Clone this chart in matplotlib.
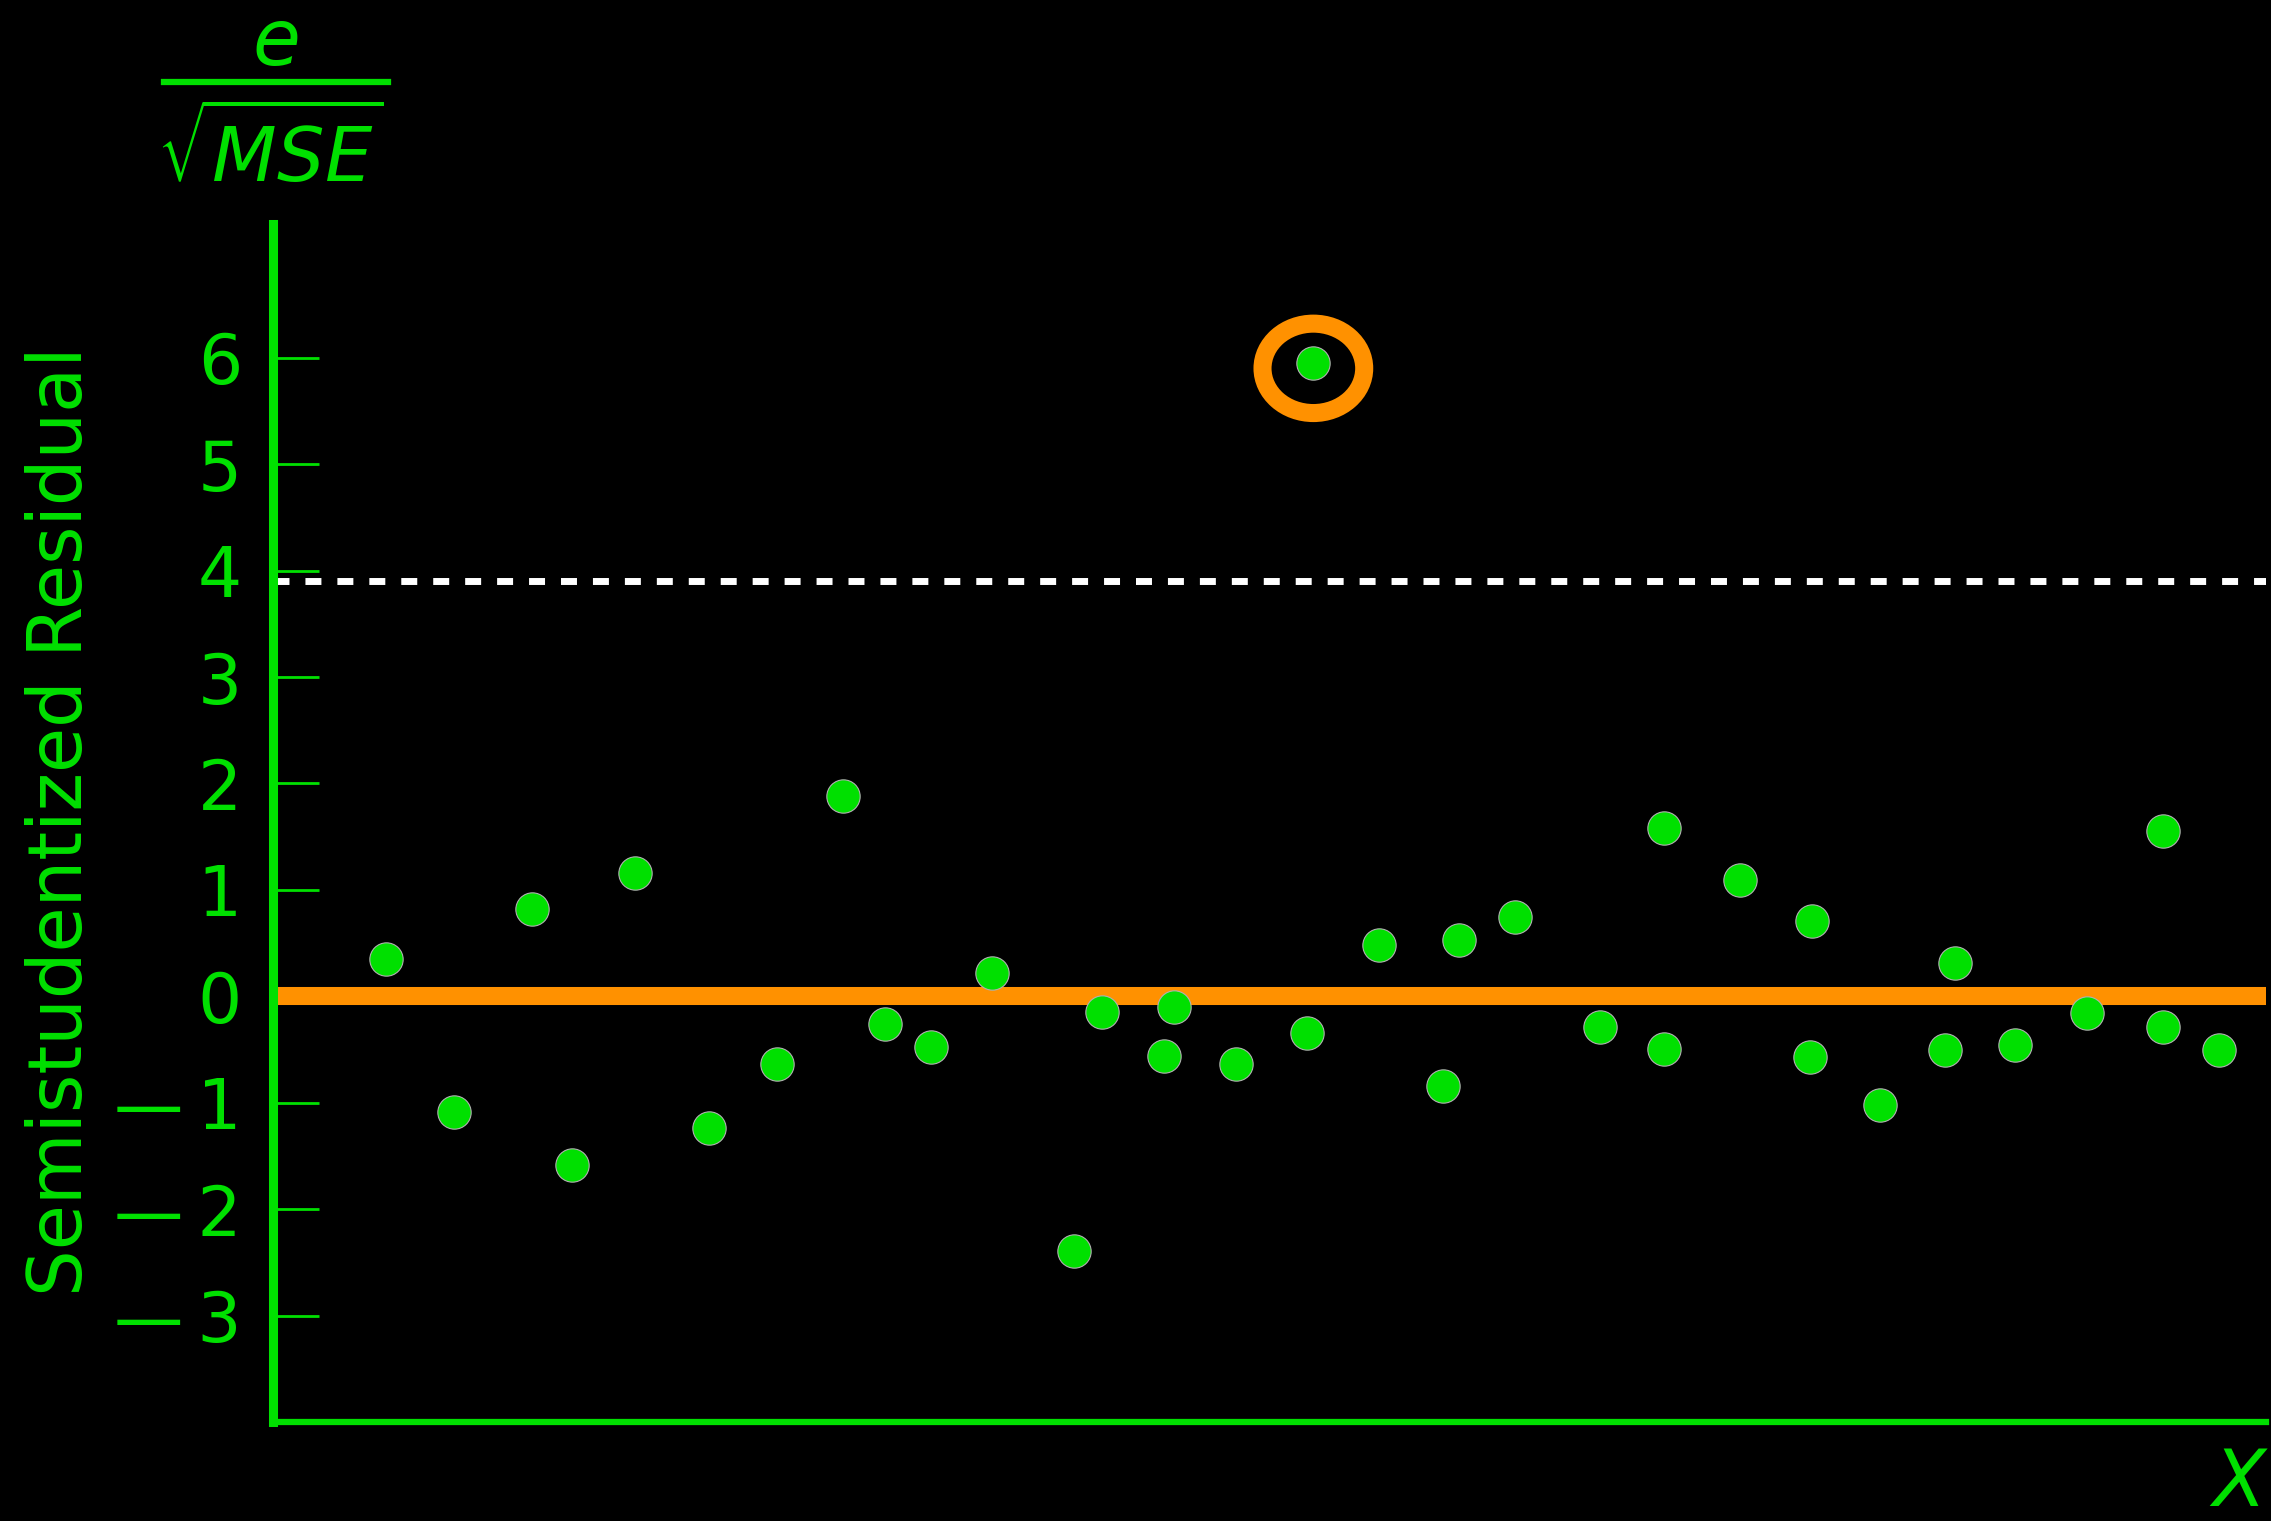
import numpy as np
import matplotlib.pyplot as plt
from matplotlib.patches import Ellipse
from matplotlib.lines import Line2D

GREEN = '#00e000'
ORANGE = '#ff9100'

# residual plot data (x in arbitrary units 0-100)
x_vals = [5.7, 9.1, 13.0, 15.0, 18.2, 21.9, 25.3, 28.6, 30.7, 33.0, 36.1, 40.2,
          41.6, 45.2, 44.7, 48.3, 51.9, 52.2, 55.5, 58.7, 59.5, 62.3, 66.6, 69.8,
          69.8, 73.6, 77.2, 77.1, 80.6, 84.4, 83.9, 87.4, 91.0, 94.8, 94.8, 97.6]
resid = [0.35, -1.09, 0.82, -1.58, 1.16, -1.24, -0.64, 1.88, -0.26, -0.48, 0.22, -2.39,
         -0.15, -0.10, -0.56, -0.64, -0.34, 5.95, 0.48, -0.84, 0.53, 0.75, -0.29, 1.58,
         -0.49, 1.09, 0.71, -0.57, -1.02, 0.31, -0.50, -0.46, -0.16, 1.55, -0.29, -0.50]

outlier_x = 52.2
outlier_y = 5.95
cutoff = 3.9

yticks = [-3, -2, -1, 0, 1, 2, 3, 4, 5, 6]
ytick_labels = ['—\u20093', '—\u20092', '—\u20091', '0', '1', '2', '3', '4', '5', '6']

fig = plt.figure(figsize=(22.71, 15.21), dpi=100, facecolor='black')
ax = fig.add_axes([0.120, 0.065, 0.878, 0.788], facecolor='black')

ax.axhline(0, color=ORANGE, lw=13, zorder=2)
ax.axhline(cutoff, color='white', lw=5, dashes=(2.3, 2.3), zorder=2)
ax.plot(x_vals, resid, 'o', color=GREEN, ms=24, mec='#b0b0b0', mew=0.8, zorder=3)

ring = Ellipse((outlier_x, outlier_y - 0.05), 5.1, 0.84, fill=False,
               ec=ORANGE, lw=13, zorder=4)
ax.add_patch(ring)

ax.set_xlim(0, 100)
ax.set_ylim(-4.0, 7.26)
ax.set_xticks([])
ax.set_yticks(yticks)
ax.set_yticklabels(ytick_labels)
ax.tick_params(axis='y', direction='in', length=33, width=2, color=GREEN,
               labelcolor=GREEN, labelsize=50, pad=22)

for side in ['top', 'right']:
    ax.spines[side].set_visible(False)
ax.spines['left'].set_color(GREEN)
ax.spines['left'].set_linewidth(6.5)
ax.spines['bottom'].set_color(GREEN)
ax.spines['bottom'].set_linewidth(4.5)

fig.text(0.027, 0.46, 'Semistudentized Residual', rotation=90, color=GREEN,
         fontsize=53, ha='center', va='center')

# e / sqrt(MSE) label above the axis
fig.text(0.121, 0.972, '$e$', color=GREEN, fontsize=56, ha='center', va='center')
fig.add_artist(Line2D([0.072, 0.171], [0.946, 0.946], color=GREEN, lw=4.5))
fig.text(0.119, 0.899, r'$\sqrt{MSE}$', color=GREEN, fontsize=54,
         ha='center', va='center')

fig.text(0.986, 0.024, '$X$', color=GREEN, fontsize=56, ha='center', va='center')

plt.savefig('out.png', dpi=100, facecolor='black')
